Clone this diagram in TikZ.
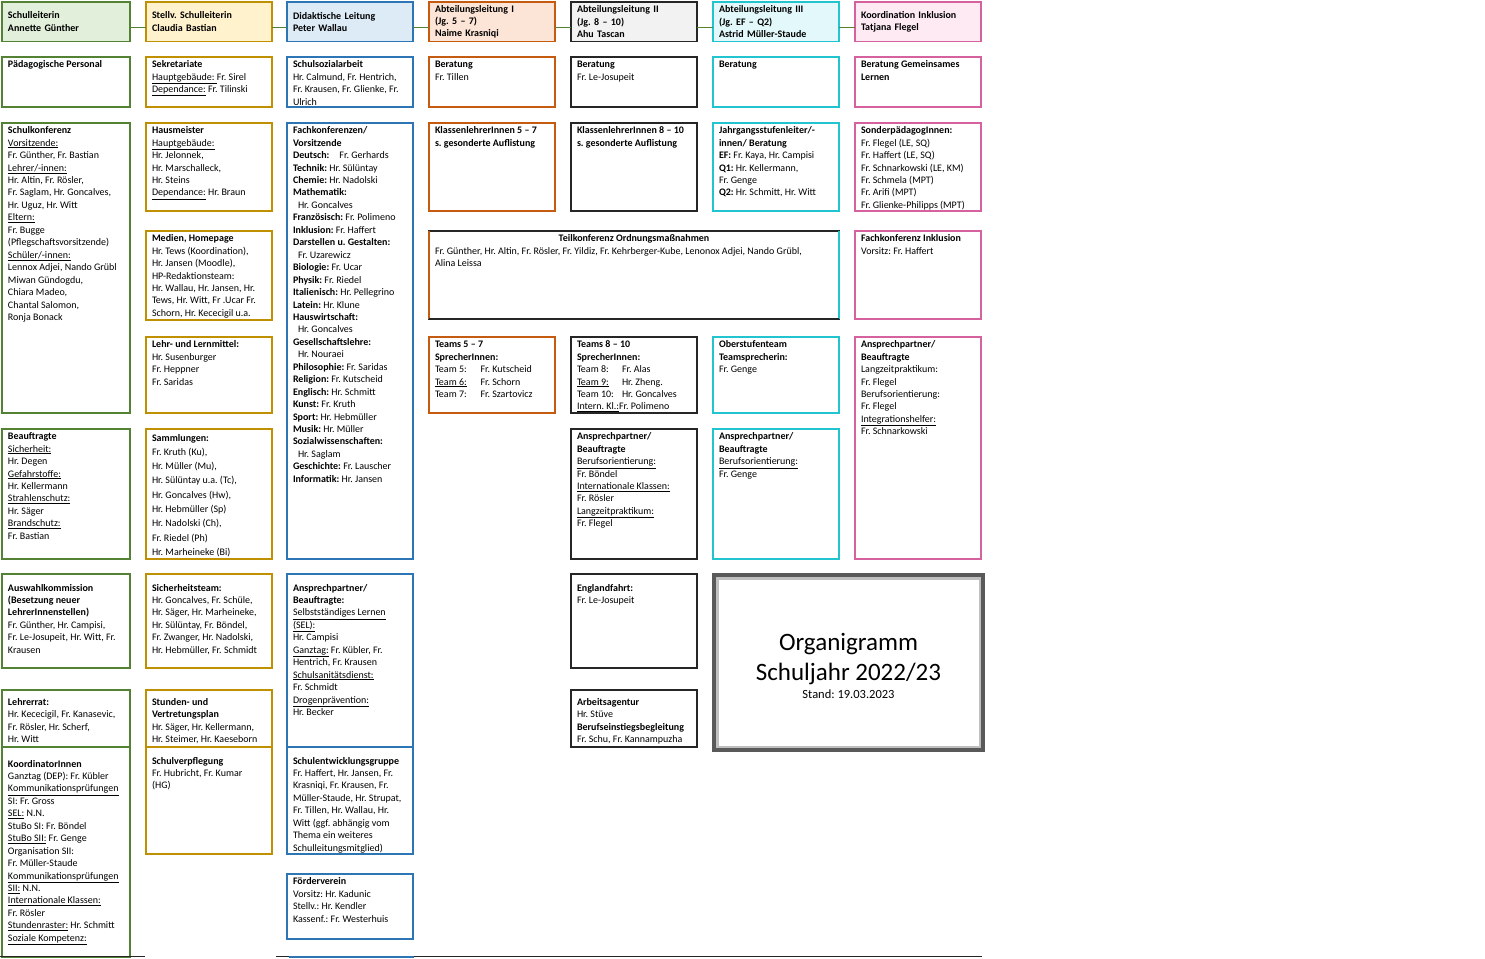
\documentclass[tikz,border=0pt]{standalone}
\usepackage{fontspec}
\setmainfont{Carlito}
\frenchspacing
\definecolor{grn}{HTML}{548235}
\definecolor{grnfill}{HTML}{E2EFDA}
\definecolor{gld}{HTML}{BF9000}
\definecolor{gldfill}{HTML}{FFF2CC}
\definecolor{blu}{HTML}{2E75B6}
\definecolor{blufill}{HTML}{DDEBF7}
\definecolor{org}{HTML}{C55A11}
\definecolor{orgfill}{HTML}{FCE4D6}
\definecolor{blk}{HTML}{262626}
\definecolor{blkfill}{HTML}{F2F2F2}
\definecolor{cyn}{HTML}{22C5CF}
\definecolor{cynfill}{HTML}{E3F8FA}
\definecolor{pnk}{HTML}{D5619F}
\definecolor{pnkfill}{HTML}{FDEAF2}
\definecolor{rahmen}{HTML}{595959}
\definecolor{rahmenhell}{HTML}{BFBFBF}
\newcommand{\kfont}{\fontsize{10}{12.45}\selectfont}
\def\celldrop{0pt}

\begin{document}
\begin{tikzpicture}[x=1pt, y=-1pt,
  kopf/.style 2 args={draw=#1, fill=#2, line width=1.8pt, outer sep=0pt,
    anchor=north west, text width=114pt, minimum height=39.5pt,
    inner xsep=6pt, inner ysep=1pt, align=left, font=\kfont\bfseries},
  feld/.style n args={3}{draw=#1, line width=1.8pt, outer sep=0pt,
    anchor=north west, inner xsep=6pt, inner ysep=2pt, font=\kfont,
    execute at begin node={\begin{minipage}[t][\dimexpr#3pt-4pt\relax][t]{\dimexpr#2pt-12pt\relax}\vspace*{\celldrop}\raggedright\strut},
    execute at end node={\end{minipage}}},
  tiefer/.code={\def\celldrop{#1}},
  linie/.style={draw=grn, line width=1.3pt},
  titel/.style={anchor=base, inner sep=0pt}]

\useasboundingbox (0,0) rectangle (1485,958);

% Leitung
\node[kopf={grn}{grnfill}, text width=116pt] (sl) at (2,2) {Schulleiterin\\Annette Günther};
\node[kopf={gld}{gldfill}] (stv) at (146,2) {Stellv. Schulleiterin\\Claudia Bastian};
\node[kopf={blu}{blufill}] (did) at (287,2) {Didaktische Leitung\\Peter Wallau};
\node[kopf={org}{orgfill}] (al1) at (429,2) {Abteilungsleitung I\\(Jg. 5 – 7)\\Naime Krasniqi};
\node[kopf={blk}{blkfill}] (al2) at (571,2) {Abteilungsleitung II\\(Jg. 8 – 10)\\Ahu Tascan};
\node[kopf={cyn}{cynfill}] (al3) at (713,2) {Abteilungsleitung III\\(Jg. EF – Q2)\\Astrid Müller-Staude};
\node[kopf={pnk}{pnkfill}] (koi) at (855,2) {Koordination Inklusion\\Tatjana Flegel};
\foreach \a/\b in {sl/stv, stv/did, did/al1, al1/al2, al2/al3, al3/koi}
  \draw[linie] ([yshift=-6pt]\a.east) -- ([yshift=-6pt]\b.west);

% Spalte Schulleiterin
\node[feld={grn}{128}{50}] (paed) at (2,57) {\textbf{Pädagogische Personal}};
\node[feld={grn}{128}{290}] (skonf) at (2,123) {\textbf{Schulkonferenz}\\
  \underline{Vorsitzende:}\\ Fr. Günther, Fr. Bastian\\ \underline{Lehrer/-innen:}\\
  Hr. Altin, Fr. Rösler,\\ Fr. Saglam, Hr. Goncalves,\\ Hr. Uguz, Hr. Witt\\
  \underline{Eltern:}\\ Fr. Bugge\\ (Pflegschaftsvorsitzende)\\ \underline{Schüler/-innen:}\\
  Lennox Adjei, Nando Grübl\\ Miwan Gündogdu,\\ Chiara Madeo,\\ Chantal Salomon,\\ Ronja Bonack};
\node[feld={grn}{128}{130}] (beauf) at (2,429) {\textbf{Beauftragte}\\
  \underline{Sicherheit:}\\ Hr. Degen\\ \underline{Gefahrstoffe:}\\ Hr. Kellermann\\
  \underline{Strahlenschutz:}\\ Hr. Säger\\ \underline{Brandschutz:}\\ Fr. Bastian};
\node[feld={grn}{128}{94}, tiefer=6.3pt] (auswahl) at (2,574) {\textbf{Auswahlkommission}\\
  \textbf{(Besetzung neuer}\\ \textbf{LehrerInnenstellen)}\\ Fr. Günther, Hr. Campisi,\\
  Fr. Le-Josupeit, Hr. Witt, Fr.\\ Krausen};
\node[feld={grn}{128}{57}, tiefer=4.8pt] (lrat) at (2,690) {\textbf{Lehrerrat:}\\
  Hr. Kececigil, Fr. Kanasevic,\\ Fr. Rösler, Hr. Scherf,\\ Hr. Witt};
\node[feld={grn}{128}{210}, tiefer=9.3pt] (koord) at (2,747) {\textbf{KoordinatorInnen}\\
  Ganztag (DEP): Fr. Kübler\\ \underline{Kommunikationsprüfungen}\\ SI: Fr. Gross\\
  \underline{SEL:} N.N.\\ StuBo SI: Fr. Böndel\\ \underline{StuBo SII:} Fr. Genge\\
  Organisation SII:\\ Fr. Müller-Staude\\ \underline{Kommunikationsprüfungen}\\
  \underline{SII:} N.N.\\ \underline{Internationale Klassen:}\\ Fr. Rösler\\
  \underline{Stundenraster:} Hr. Schmitt\\ \underline{Soziale Kompetenz:}};

% Spalte Stellvertretung
\node[feld={gld}{126}{50}] (sekr) at (146,57) {\textbf{Sekretariate}\\
  \underline{Hauptgebäude:\ }Fr. Sirel\\ \underline{Dependance:} Fr. Tilinski};
\node[feld={gld}{126}{88}] (haus) at (146,123) {\textbf{Hausmeister}\\
  \underline{Hauptgebäude:}\\ Hr. Jelonnek,\\ Hr. Marschalleck,\\ Hr. Steins\\
  \underline{Dependance:} Hr. Braun};
\node[feld={gld}{126}{89}] (medien) at (146,231) {\textbf{Medien, Homepage}\\
  Hr. Tews (Koordination),\\ Hr. Jansen (Moodle),\\ HP-Redaktionsteam:\\
  Hr. Wallau, Hr. Jansen, Hr.\\ Tews, Hr. Witt, Fr .Ucar Fr.\\ Schorn, Hr. Kececigil u.a.};
\node[feld={gld}{126}{76}] (lernm) at (146,337) {\textbf{Lehr- und Lernmittel:}\\
  Hr. Susenburger\\ Fr. Heppner\\ Fr. Saridas};
\node[feld={gld}{126}{130}, font={\fontsize{10}{14.3}\selectfont}] (samml) at (146,429) {\textbf{Sammlungen:}\\
  Fr. Kruth (Ku),\\ Hr. Müller (Mu),\\ Hr. Sülüntay u.a. (Tc),\\ Hr. Goncalves (Hw),\\
  Hr. Hebmüller (Sp)\\ Hr. Nadolski (Ch),\\ Fr. Riedel (Ph)\\ Hr. Marheineke (Bi)};
\node[feld={gld}{126}{94}, tiefer=6.3pt] (sicher) at (146,574) {\textbf{Sicherheitsteam:}\\
  Hr. Goncalves, Fr. Schüle,\\ Hr. Säger, Hr. Marheineke,\\ Hr. Sülüntay, Fr. Böndel,\\
  Fr. Zwanger, Hr. Nadolski,\\ Hr. Hebmüller, Fr. Schmidt};
\node[feld={gld}{126}{57}, tiefer=4.8pt] (vplan) at (146,690) {\textbf{Stunden- und}\\
  \textbf{Vertretungsplan}\\ Hr. Säger, Hr. Kellermann,\\ Hr. Steimer, Hr. Kaeseborn};
\node[feld={gld}{126}{107}, tiefer=6.3pt] (verpfl) at (146,747) {\textbf{Schulverpflegung}\\
  Fr. Hubricht, Fr. Kumar\\ (HG)};

% Spalte Didaktische Leitung
\node[feld={blu}{126}{50}] (ssa) at (287,57) {\textbf{Schulsozialarbeit}\\
  Hr. Calmund, Fr. Hentrich,\\ Fr. Krausen, Fr. Glienke, Fr.\\ Ulrich};
\node[feld={blu}{126}{436}] (fachk) at (287,123) {\textbf{Fachkonferenzen/}\\ \textbf{Vorsitzende}\\
  \textbf{Deutsch:}\hspace{10pt}Fr. Gerhards\\ \textbf{Technik:} Hr. Sülüntay\\
  \textbf{Chemie:} Hr. Nadolski\\ \textbf{Mathematik:}\\ \hspace*{5pt}Hr. Goncalves\\
  \textbf{Französisch:} Fr. Polimeno\\ \textbf{Inklusion:} Fr. Haffert\\
  \textbf{Darstellen u. Gestalten:}\\ \hspace*{5pt}Fr. Uzarewicz\\ \textbf{Biologie:} Fr. Ucar\\
  \textbf{Physik:} Fr. Riedel\\ \textbf{Italienisch:} Hr. Pellegrino\\ \textbf{Latein:} Hr. Klune\\
  \textbf{Hauswirtschaft:}\\ \hspace*{5pt}Hr. Goncalves\\ \textbf{Gesellschaftslehre:}\\
  \hspace*{5pt}Hr. Nouraei\\ \textbf{Philosophie:} Fr. Saridas\\ \textbf{Religion:} Fr. Kutscheid\\
  \textbf{Englisch:} Hr. Schmitt\\ \textbf{Kunst:} Fr. Kruth\\ \textbf{Sport:} Hr. Hebmüller\\
  \textbf{Musik:} Hr. Müller\\ \textbf{Sozialwissenschaften:}\\ \hspace*{5pt}Hr. Saglam\\
  \textbf{Geschichte:} Fr. Lauscher\\ \textbf{Informatik:} Hr. Jansen};
\node[feld={blu}{126}{173}, tiefer=6.3pt] (apdid) at (287,574) {\textbf{Ansprechpartner/}\\
  \textbf{Beauftragte:}\\ \underline{Selbstständiges Lernen}\\ \underline{(SEL):}\\ Hr. Campisi\\
  \underline{Ganztag:} Fr. Kübler, Fr.\\ Hentrich, Fr. Krausen\\ \underline{Schulsanitätsdienst:}\\
  Fr. Schmidt\\ \underline{Drogenprävention:}\\ Hr. Becker};
\node[feld={blu}{126}{107}, tiefer=6.3pt] (sewg) at (287,747) {\textbf{Schulentwicklungsgruppe}\\
  Fr. Haffert, Hr. Jansen, Fr.\\ Krasniqi, Fr. Krausen, Fr.\\ Müller-Staude, Hr. Strupat,\\
  Fr. Tillen, Hr. Wallau, Hr.\\ Witt (ggf. abhängig vom\\ Thema ein weiteres\\ Schulleitungsmitglied)};
\node[feld={blu}{126}{65}] (foerd) at (287,874) {\textbf{Förderverein}\\
  Vorsitz: Hr. Kadunic\\ Stellv.: Hr. Kendler\\ Kassenf.: Fr. Westerhuis};

% Spalte Abteilungsleitung I
\node[feld={org}{126}{50}] (ber1) at (429,57) {\textbf{Beratung}\\ Fr. Tillen};
\node[feld={org}{126}{88}] (kl57) at (429,123) {\textbf{KlassenlehrerInnen 5 – 7}\\
  \textbf{s. gesonderte Auflistung}};
\node[feld={blk}{410}{88}] (teilk) at (429,231) {\hfill\textbf{Teilkonferenz Ordnungsmaßnahmen}\hfill\null\\
  Fr. Günther, Hr. Altin, Fr. Rösler, Fr. Yildiz, Fr. Kehrberger-Kube, Lenonox Adjei, Nando Grübl,\\
  Alina Leissa};
\draw[org, line width=1.8pt] (teilk.north west) -- (teilk.south west);
\draw[cyn, line width=1.8pt] (teilk.north east) -- (teilk.south east);
\draw[blk, line width=2.6pt] (teilk.south west) -- (teilk.south east);
\node[feld={org}{126}{76}] (team57) at (429,337) {\textbf{Teams 5 – 7}\\ \textbf{SprecherInnen:}\\
  \makebox[45.5pt][l]{Team 5:}Fr. Kutscheid\\ \makebox[45.5pt][l]{\underline{Team 6:}}Fr. Schorn\\
  \makebox[45.5pt][l]{Team 7:}Fr. Szartovicz};

% Spalte Abteilungsleitung II
\node[feld={blk}{126}{50}] (ber2) at (571,57) {\textbf{Beratung}\\ Fr. Le-Josupeit};
\node[feld={blk}{126}{88}] (kl810) at (571,123) {\textbf{KlassenlehrerInnen 8 – 10}\\
  \textbf{s. gesonderte Auflistung}};
\node[feld={blk}{126}{76}] (team810) at (571,337) {\textbf{Teams 8 – 10}\\ \textbf{SprecherInnen:}\\
  \makebox[45pt][l]{Team 8:}Fr. Alas\\ \makebox[45pt][l]{\underline{Team 9:}}Hr. Zheng.\\
  \makebox[45pt][l]{Team 10:}Hr. Goncalves\\ \underline{Intern. Kl.:}Fr. Polimeno};
\node[feld={blk}{126}{130}] (ap2) at (571,429) {\textbf{Ansprechpartner/}\\ \textbf{Beauftragte}\\
  \underline{Berufsorientierung:}\\ Fr. Böndel\\ \underline{Internationale Klassen:}\\ Fr. Rösler\\
  \underline{Langzeitpraktikum:}\\ Fr. Flegel};
\node[feld={blk}{126}{94}, tiefer=6.3pt] (engl) at (571,574) {\textbf{Englandfahrt:}\\ Fr. Le-Josupeit};
\node[feld={blk}{126}{57}, tiefer=4.8pt] (arbag) at (571,690) {\textbf{Arbeitsagentur}\\ Hr. Stüve\\
  \textbf{Berufseinstiegsbegleitung}\\ Fr. Schu, Fr. Kannampuzha};

% Spalte Abteilungsleitung III
\node[feld={cyn}{126}{50}] (ber3) at (713,57) {\textbf{Beratung}};
\node[feld={cyn}{126}{88}] (jgst) at (713,123) {\textbf{Jahrgangsstufenleiter/-}\\
  \textbf{innen/ Beratung}\\ \textbf{EF:} Fr. Kaya, Hr. Campisi\\ \textbf{Q1:} Hr. Kellermann,\\
  Fr. Genge\\ \textbf{Q2:} Hr. Schmitt, Hr. Witt};
\node[feld={cyn}{126}{76}] (ober) at (713,337) {\textbf{Oberstufenteam}\\ \textbf{Teamsprecherin:}\\ Fr. Genge};
\node[feld={cyn}{126}{130}] (ap3) at (713,429) {\textbf{Ansprechpartner/}\\ \textbf{Beauftragte}\\
  \underline{Berufsorientierung:}\\ Fr. Genge};

% Spalte Inklusion
\node[feld={pnk}{126}{50}] (bergl) at (855,57) {\textbf{Beratung Gemeinsames}\\ \textbf{Lernen}};
\node[feld={pnk}{126}{88}] (sonder) at (855,123) {\textbf{SonderpädagogInnen:}\\
  Fr. Flegel (LE, SQ)\\ Fr. Haffert (LE, SQ)\\ Fr. Schnarkowski (LE, KM)\\ Fr. Schmela (MPT)\\
  Fr. Arifi (MPT)\\ Fr. Glienke-Philipps (MPT)};
\node[feld={pnk}{126}{88}] (fkinkl) at (855,231) {\textbf{Fachkonferenz Inklusion}\\ Vorsitz: Fr. Haffert};
\node[feld={pnk}{126}{222}] (apinkl) at (855,337) {\textbf{Ansprechpartner/}\\ \textbf{Beauftragte}\\
  Langzeitpraktikum:\\ Fr. Flegel\\ Berufsorientierung:\\ Fr. Flegel\\
  \underline{Integrationshelfer:}\\ Fr. Schnarkowski};

% Titel
\node[draw=rahmen, line width=4pt, fill=white, outer sep=0pt,
  minimum width=269pt, minimum height=175pt] (tbox) at (848.5,662.5) {};
\draw[rahmenhell, line width=2.5pt] ([shift={(3.25pt,-3.25pt)}]tbox.north west)
  rectangle ([shift={(-3.25pt,3.25pt)}]tbox.south east);
\node[titel, font=\fontsize{25}{30}\selectfont] (org1) at (848.5,650) {Organigramm};
\node[titel, font=\fontsize{25}{30}\selectfont] (org2) at (848.5,680) {Schuljahr 2022/23};
\node[titel, font=\fontsize{12.5}{15}\selectfont] (stand) at (848.5,698) {Stand: 19.03.2023};

% Seitenrand unten
\draw[blk, line width=1.3pt] (0,956.5) -- (145,956.5) (276,956.5) -- (982,956.5);
\draw[blu, line width=2pt] (289,956.5) -- (414,956.5);
\end{tikzpicture}
\end{document}
